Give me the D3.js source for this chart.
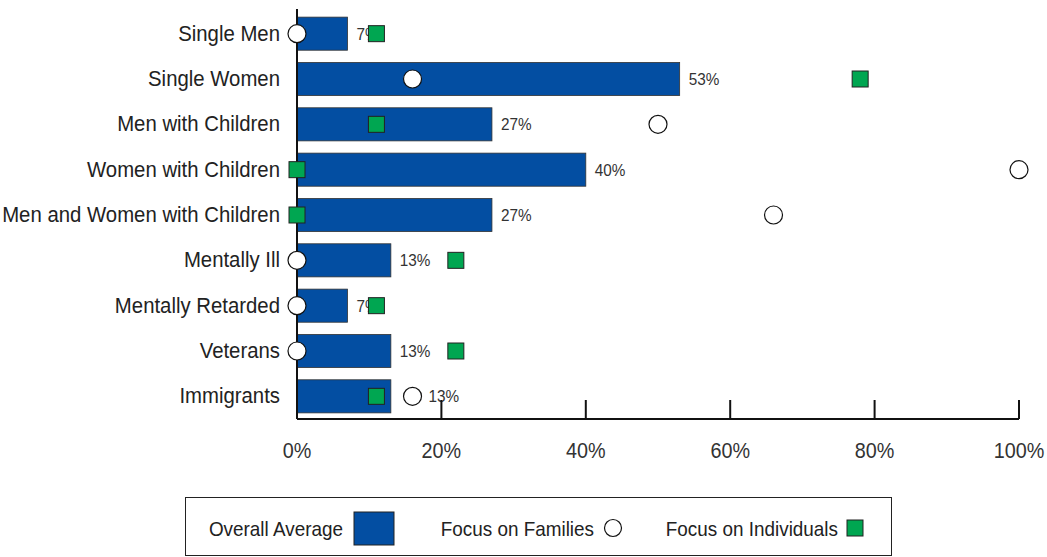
<!DOCTYPE html>
<html>
<head>
<meta charset="utf-8">
<script src="https://cdn.jsdelivr.net/npm/d3@7"></script>
<style>
  body { margin: 0; background: #fff; }
  svg text { font-family: "Liberation Sans", Arial, sans-serif; fill: #222; }
</style>
</head>
<body>
<svg id="chart" width="1047" height="557"></svg>
<script>
/* global d3: false */

const categories = [
  'Single Men', 'Single Women', 'Men with Children', 'Women with Children',
  'Men and Women with Children', 'Mentally Ill', 'Mentally Retarded',
  'Veterans', 'Immigrants'];
const overall = [7, 53, 27, 40, 27, 13, 7, 13, 13];
const families = [0, 16, 50, 100, 66, 0, 0, 0, 16];
const individuals = [11, 78, 11, 0, 0, 22, 11, 22, 11];
const ticks = [0, 20, 40, 60, 80, 100];
const legendLabels = ['Overall Average', 'Focus on Families', 'Focus on Individuals'];

const blue = '#034ea2';
const green = '#00a651';
const circleR = 9;
const squareSize = 16;

const svg = d3.select('#chart');
const x = d3.scaleLinear().domain([0, 100]).range([297, 1019]);
const y = d3.scaleBand().domain(categories).range([11, 419])
  .paddingInner(0.27).paddingOuter(0.135);

const rows = categories.map((c, i) => ({
  name: c, avg: overall[i], fam: families[i], ind: individuals[i],
}));

// tall, slightly squeezed text to get close to the condensed face of the original
function narrowText(g, tx, ty, str, size, anchor, sx) {
  return g.append('text')
    .attr('transform', `translate(${tx},${ty}) scale(${sx || 0.9},1)`)
    .attr('text-anchor', anchor || 'start')
    .style('font-size', `${size}px`)
    .text(str);
}

// bars
svg.append('g').selectAll('rect')
  .data(rows)
  .enter()
  .append('rect')
  .attr('x', x(0))
  .attr('y', d => y(d.name))
  .attr('width', d => x(d.avg) - x(0))
  .attr('height', y.bandwidth())
  .attr('fill', blue)
  .attr('stroke', '#333')
  .attr('stroke-width', 0.8);

// value labels, pushed past a family marker if it sits right after the bar
const labelG = svg.append('g');
rows.forEach((d) => {
  let lx = x(d.avg) + 9;
  const cx = x(d.fam);
  if (cx > x(d.avg) && cx - circleR < lx + 30) {
    lx = cx + circleR + 7;
  }
  narrowText(labelG, lx, y(d.name) + y.bandwidth() / 2 + 6, `${d.avg}%`, 17)
    .style('fill', '#333');
});

// x axis
const axisY = 419;
const xAxis = svg.append('g');
xAxis.append('line')
  .attr('x1', x(0)).attr('x2', x(100))
  .attr('y1', axisY).attr('y2', axisY)
  .attr('stroke', '#111').attr('stroke-width', 2);
xAxis.selectAll('.tick')
  .data(ticks.slice(1))
  .enter()
  .append('line')
  .attr('x1', d => x(d)).attr('x2', d => x(d))
  .attr('y1', axisY - 19).attr('y2', axisY)
  .attr('stroke', '#111').attr('stroke-width', 2);
ticks.forEach((t) => {
  narrowText(xAxis, x(t), 458, `${t}%`, 22, 'middle').style('fill', '#333');
});

// y axis
svg.append('line')
  .attr('x1', x(0)).attr('x2', x(0))
  .attr('y1', 9).attr('y2', axisY)
  .attr('stroke', '#111').attr('stroke-width', 2);

const catG = svg.append('g');
rows.forEach((d) => {
  narrowText(catG, 280, y(d.name) + y.bandwidth() / 2 + 7, d.name, 22, 'end', 0.925);
});

// markers
svg.append('g').selectAll('rect')
  .data(rows)
  .enter()
  .append('rect')
  .attr('x', d => x(d.ind) - squareSize / 2)
  .attr('y', d => y(d.name) + y.bandwidth() / 2 - squareSize / 2)
  .attr('width', squareSize)
  .attr('height', squareSize)
  .attr('fill', green)
  .attr('stroke', '#222')
  .attr('stroke-width', 1);

svg.append('g').selectAll('circle')
  .data(rows)
  .enter()
  .append('circle')
  .attr('cx', d => x(d.fam))
  .attr('cy', d => y(d.name) + y.bandwidth() / 2)
  .attr('r', circleR)
  .attr('fill', '#fff')
  .attr('stroke', '#111')
  .attr('stroke-width', 1.2);

// legend
const legend = svg.append('g');
legend.append('rect')
  .attr('x', 185.5).attr('y', 497.5)
  .attr('width', 706).attr('height', 58)
  .attr('fill', 'none')
  .attr('stroke', '#222');
const legendEnds = [343, 594, 838];
legendLabels.forEach((t, i) => {
  narrowText(legend, legendEnds[i], 536, t, 21, 'end');
});
legend.append('rect')
  .attr('x', 354).attr('y', 512)
  .attr('width', 40).attr('height', 33)
  .attr('fill', blue).attr('stroke', '#222');
legend.append('circle')
  .attr('cx', 613).attr('cy', 528).attr('r', 8.5)
  .attr('fill', '#fff').attr('stroke', '#111').attr('stroke-width', 1.2);
legend.append('rect')
  .attr('x', 847).attr('y', 520)
  .attr('width', 16).attr('height', 16)
  .attr('fill', green).attr('stroke', '#222');
</script>
</body>
</html>
